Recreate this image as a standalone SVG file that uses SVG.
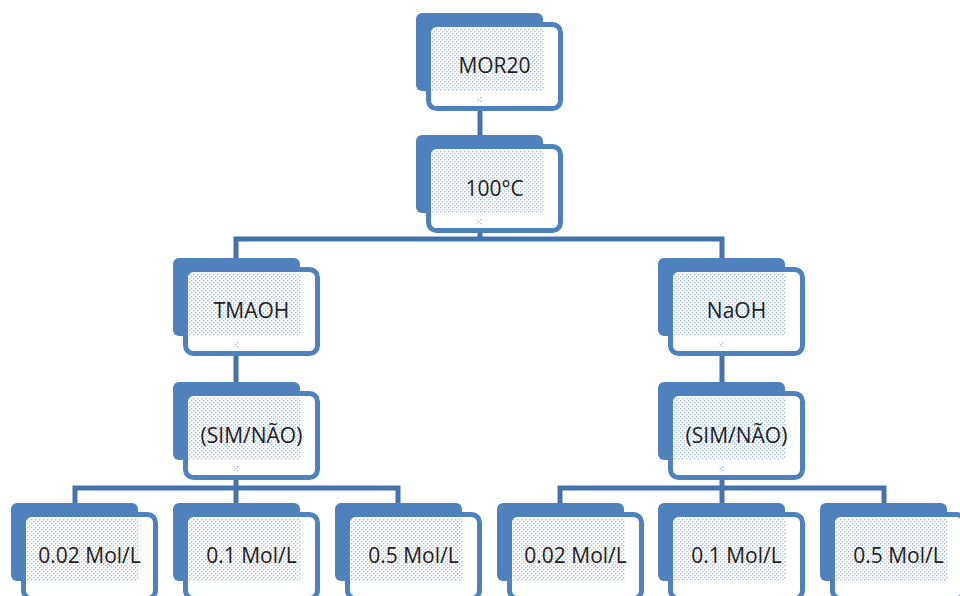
<svg xmlns="http://www.w3.org/2000/svg" width="960" height="596" viewBox="0 0 960 596">
<defs>
<pattern id="dots" width="4" height="4" patternUnits="userSpaceOnUse">
<rect x="0" y="0" width="1.4" height="1.4" fill="#a7bde0"/>
<rect x="2" y="2" width="1.4" height="1.4" fill="#a7bde0"/>
</pattern>
<style>
.back{fill:#4f81bd;}
.front{fill:#ffffff;stroke:#4f81bd;stroke-width:5;}
.dot{fill:url(#dots);}
.lbl{font-family:"Open Sans","Liberation Sans",sans-serif;font-size:21px;fill:#222222;text-anchor:middle;}
.conn{fill:none;stroke:#4372ad;stroke-width:5;stroke-linejoin:miter;}
</style>
</defs>
<rect width="960" height="596" fill="#ffffff"/>
<g id="connectors">
<path class="conn" d="M480,100 V150"/>
<path class="conn" d="M480,220 V239 M236,260 V239 H722 V260"/>
<path class="conn" d="M236,340 V395 M722,340 V395"/>
<path class="conn" d="M236,470 V488 M75,505 V488 H398 V505 M236,488 V505"/>
<path class="conn" d="M722,470 V488 M560,505 V488 H884 V505 M722,488 V505"/>
</g>
<g id="n-mor20" transform="translate(416,13)">
<rect class="back" x="0" y="0" width="127" height="78" rx="6"/>
<rect class="front" x="12.5" y="11.5" width="132" height="84" rx="8"/>
<rect class="dot" x="16" y="15" width="112" height="63"/>
<rect class="dot" x="61" y="84" width="5" height="5"/>
<text class="lbl" x="78.5" y="60">MOR20</text>
</g>
<g id="n-100c" transform="translate(416,135)">
<rect class="back" x="0" y="0" width="127" height="78" rx="6"/>
<rect class="front" x="12.5" y="11.5" width="132" height="84" rx="8"/>
<rect class="dot" x="16" y="15" width="112" height="63"/>
<rect class="dot" x="61" y="84" width="5" height="5"/>
<text class="lbl" x="78.5" y="61">100°C</text>
</g>
<g id="n-tmaoh" transform="translate(173,258)">
<rect class="back" x="0" y="0" width="127" height="78" rx="6"/>
<rect class="front" x="12.5" y="11.5" width="132" height="84" rx="8"/>
<rect class="dot" x="16" y="15" width="112" height="63"/>
<rect class="dot" x="61" y="84" width="5" height="5"/>
<text class="lbl" x="78.5" y="60">TMAOH</text>
</g>
<g id="n-naoh" transform="translate(658,258)">
<rect class="back" x="0" y="0" width="127" height="78" rx="6"/>
<rect class="front" x="12.5" y="11.5" width="132" height="84" rx="8"/>
<rect class="dot" x="16" y="15" width="112" height="63"/>
<rect class="dot" x="61" y="84" width="5" height="5"/>
<text class="lbl" x="78.5" y="60">NaOH</text>
</g>
<g id="n-sim-l" transform="translate(173,382)">
<rect class="back" x="0" y="0" width="127" height="78" rx="6"/>
<rect class="front" x="12.5" y="11.5" width="132" height="84" rx="8"/>
<rect class="dot" x="16" y="15" width="112" height="63"/>
<rect class="dot" x="61" y="84" width="5" height="5"/>
<text class="lbl" x="78.5" y="61">(SIM/NÃO)</text>
</g>
<g id="n-sim-r" transform="translate(658,382)">
<rect class="back" x="0" y="0" width="127" height="78" rx="6"/>
<rect class="front" x="12.5" y="11.5" width="132" height="84" rx="8"/>
<rect class="dot" x="16" y="15" width="112" height="63"/>
<rect class="dot" x="61" y="84" width="5" height="5"/>
<text class="lbl" x="78.5" y="61">(SIM/NÃO)</text>
</g>
<g id="n-l-002" transform="translate(11,503)">
<rect class="back" x="0" y="0" width="127" height="78" rx="6"/>
<rect class="front" x="12.5" y="11.5" width="132" height="84" rx="8"/>
<rect class="dot" x="16" y="15" width="112" height="63"/>
<text class="lbl" x="78.5" y="60">0.02 Mol/L</text>
</g>
<g id="n-l-01" transform="translate(173,503)">
<rect class="back" x="0" y="0" width="127" height="78" rx="6"/>
<rect class="front" x="12.5" y="11.5" width="132" height="84" rx="8"/>
<rect class="dot" x="16" y="15" width="112" height="63"/>
<text class="lbl" x="78.5" y="60">0.1 Mol/L</text>
</g>
<g id="n-l-05" transform="translate(335,503)">
<rect class="back" x="0" y="0" width="127" height="78" rx="6"/>
<rect class="front" x="12.5" y="11.5" width="132" height="84" rx="8"/>
<rect class="dot" x="16" y="15" width="112" height="63"/>
<text class="lbl" x="78.5" y="60">0.5 Mol/L</text>
</g>
<g id="n-r-002" transform="translate(497,503)">
<rect class="back" x="0" y="0" width="127" height="78" rx="6"/>
<rect class="front" x="12.5" y="11.5" width="132" height="84" rx="8"/>
<rect class="dot" x="16" y="15" width="112" height="63"/>
<text class="lbl" x="78.5" y="60">0.02 Mol/L</text>
</g>
<g id="n-r-01" transform="translate(658,503)">
<rect class="back" x="0" y="0" width="127" height="78" rx="6"/>
<rect class="front" x="12.5" y="11.5" width="132" height="84" rx="8"/>
<rect class="dot" x="16" y="15" width="112" height="63"/>
<text class="lbl" x="78.5" y="60">0.1 Mol/L</text>
</g>
<g id="n-r-05" transform="translate(820,503)">
<rect class="back" x="0" y="0" width="127" height="78" rx="6"/>
<rect class="front" x="12.5" y="11.5" width="132" height="84" rx="8"/>
<rect class="dot" x="16" y="15" width="112" height="63"/>
<text class="lbl" x="78.5" y="60">0.5 Mol/L</text>
</g>
</svg>
